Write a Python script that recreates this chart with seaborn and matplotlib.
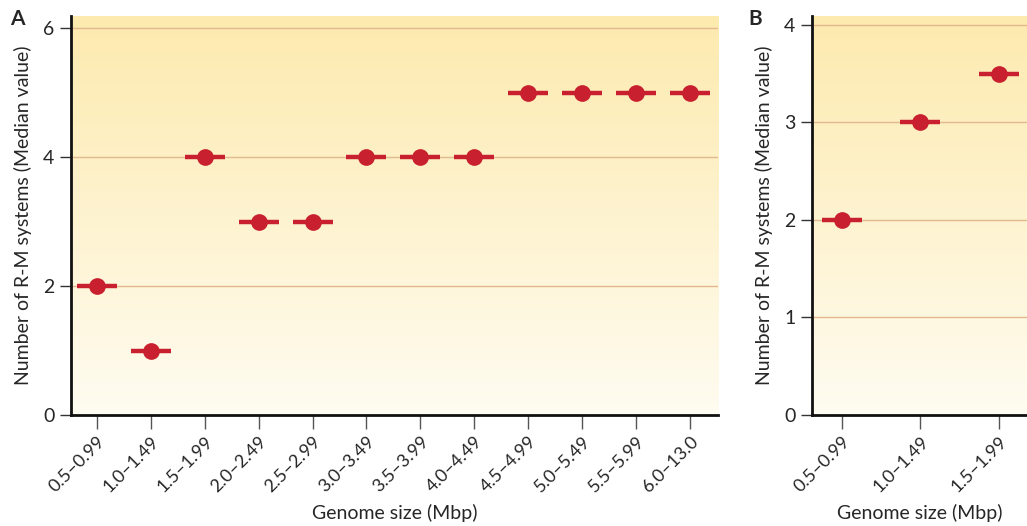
import numpy as np
import pandas as pd
import matplotlib.pyplot as plt
from matplotlib.colors import LinearSegmentedColormap
import seaborn as sns

# Panel A: all genome size classes
sizes_a = ['0.5–0.99', '1.0–1.49', '1.5–1.99', '2.0–2.49', '2.5–2.99', '3.0–3.49',
           '3.5–3.99', '4.0–4.49', '4.5–4.99', '5.0–5.49', '5.5–5.99', '6.0–13.0']
median_a = [2, 1, 4, 3, 3, 4, 4, 4, 5, 5, 5, 5]
yticks_a = [0, 2, 4, 6]

# Panel B: small genomes only
sizes_b = ['0.5–0.99', '1.0–1.49', '1.5–1.99']
median_b = [2, 3, 3.5]
yticks_b = [0, 1, 2, 3, 4]

RED = '#C8202E'
GRID = '#E3B88E'
bg = LinearSegmentedColormap.from_list('bg', ['#FFFCF1', '#FDEAAE'])

sns.set_theme(style='ticks')
plt.rcParams['font.family'] = ['Lato', 'DejaVu Sans']

fig = plt.figure(figsize=(10.27, 5.26), dpi=100)
ax_a = fig.add_axes([0.0691, 0.211, 0.630, 0.7586])
ax_b = fig.add_axes([0.7907, 0.211, 0.2093, 0.7586])


def panel(ax, sizes, medians, yticks, ylim, xlim):
    df = pd.DataFrame({'size': sizes, 'median': medians})
    # gradient background
    grad = np.linspace(0, 1, 256).reshape(-1, 1)
    ax.imshow(grad, cmap=bg, aspect='auto', origin='lower',
              extent=[0, 1, 0, 1], transform=ax.transAxes, zorder=0)
    for t in yticks[1:]:
        ax.axhline(t, color=GRID, lw=1, zorder=1)
    # horizontal median bars + dots
    sns.scatterplot(data=df, x='size', y='median', marker='_', s=800,
                    linewidth=3.2, color=RED, ax=ax, zorder=3, legend=False)
    sns.scatterplot(data=df, x='size', y='median', marker='o', s=145,
                    linewidth=0, color=RED, ax=ax, zorder=4, legend=False)
    ax.set_xlim(*xlim)
    ax.set_ylim(*ylim)
    ax.set_yticks(yticks)
    ax.set_xticks(range(len(sizes)))
    ax.set_xticklabels(sizes, rotation=45, ha='right', rotation_mode='anchor',
                       fontsize=13)
    ax.tick_params(axis='y', labelsize=14, length=8, width=1, color='#333333', pad=4)
    ax.tick_params(axis='x', length=10, width=1, color='#555555', pad=3)
    for s in ['top', 'right']:
        ax.spines[s].set_visible(False)
    for s in ['left', 'bottom']:
        ax.spines[s].set_linewidth(2)
        ax.spines[s].set_color('#111111')
    ax.set_xlabel('Genome size (Mbp)', fontsize=14, va='center')
    ax.xaxis.set_label_coords(0.5, -0.245)
    ax.set_ylabel('Number of R-M systems (Median value)', fontsize=14, labelpad=8)


panel(ax_a, sizes_a, median_a, yticks_a, (0, 6.19), (-0.48, 11.52))
panel(ax_b, sizes_b, median_b, yticks_b, (0, 4.09), (-0.38, 2.36))

fig.text(0.010, 0.963, 'A', fontsize=15, fontweight='bold', va='center')
fig.text(0.729, 0.963, 'B', fontsize=15, fontweight='bold', va='center')

fig.savefig('out.png', dpi=100)
